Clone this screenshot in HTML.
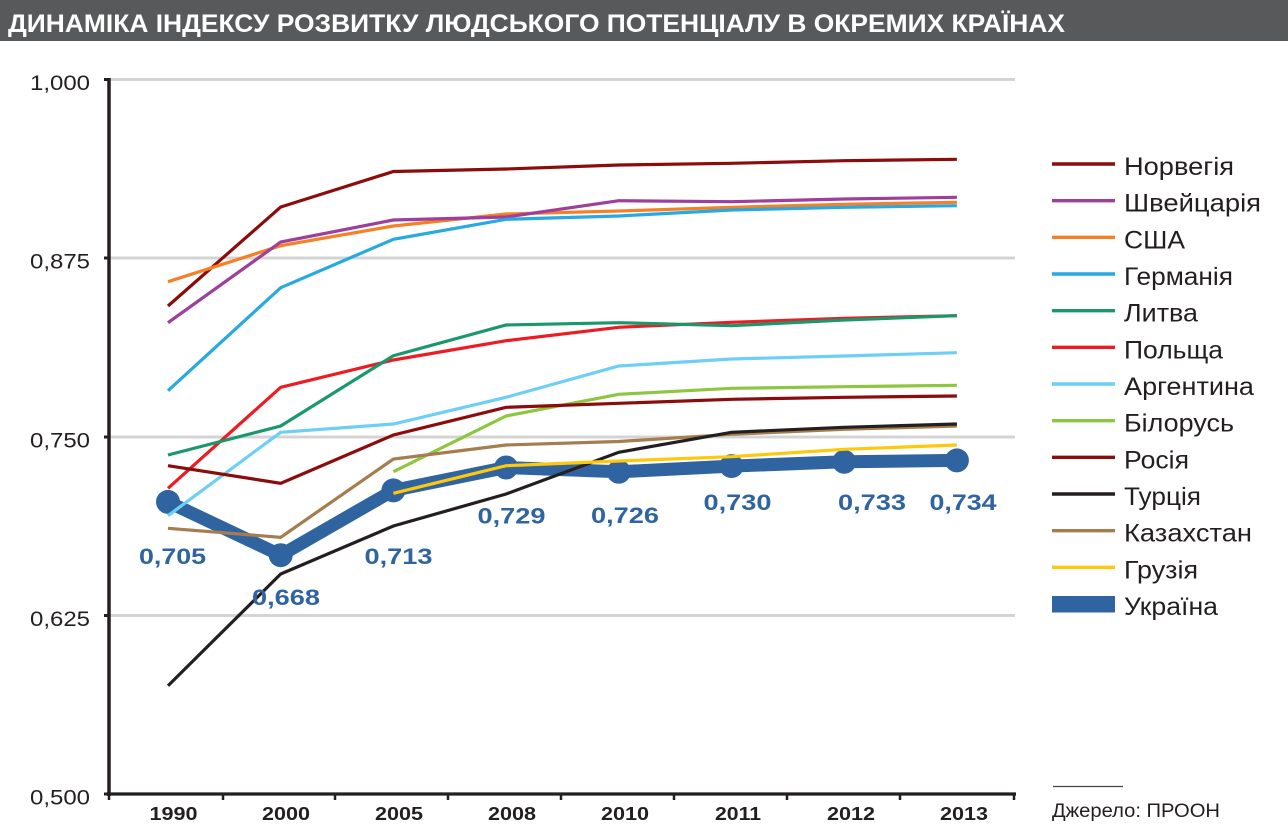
<!DOCTYPE html>
<html><head><meta charset="utf-8"><style>
html,body{margin:0;padding:0;background:#fff;}
svg{display:block;}
text{font-family:"Liberation Sans","DejaVu Sans",sans-serif;}
</style></head><body>
<svg width="1288" height="828" viewBox="0 0 1288 828" xmlns="http://www.w3.org/2000/svg">
<rect x="0" y="0" width="1288" height="828" fill="#fff"/>
<rect x="0" y="0" width="1288" height="41" fill="#58595b"/>
<text x="8" y="32" font-size="25" font-weight="bold" fill="#fff" textLength="1057" lengthAdjust="spacingAndGlyphs">ДИНАМІКА ІНДЕКСУ РОЗВИТКУ ЛЮДСЬКОГО ПОТЕНЦІАЛУ В ОКРЕМИХ КРАЇНАХ</text>

<!-- gridlines -->
<g stroke="#d4d4d4" stroke-width="3">
<line x1="110" y1="79.5" x2="1015" y2="79.5"/>
<line x1="110" y1="258" x2="1015" y2="258"/>
<line x1="110" y1="437" x2="1015" y2="437"/>
<line x1="110" y1="615.5" x2="1015" y2="615.5"/>
</g>

<!-- y labels -->
<g font-size="21" fill="#231f20" text-anchor="end">
<text x="90" y="90" textLength="60" lengthAdjust="spacingAndGlyphs">1,000</text>
<text x="90" y="268.5" textLength="60" lengthAdjust="spacingAndGlyphs">0,875</text>
<text x="90" y="447.5" textLength="60" lengthAdjust="spacingAndGlyphs">0,750</text>
<text x="90" y="626" textLength="60" lengthAdjust="spacingAndGlyphs">0,625</text>
<text x="90" y="804.5" textLength="60" lengthAdjust="spacingAndGlyphs">0,500</text>
</g>

<!-- Ukraine -->
<g>
<polyline fill="none" stroke="#2f64a0" stroke-width="13" stroke-linejoin="round" points="168,501.9 280.7,555.2 393.4,490.4 506.1,467.5 618.8,471.8 731.5,466.1 844.2,461.8 956.9,460.4"/>
<g fill="#2f64a0">
<circle cx="168" cy="501.9" r="12"/>
<circle cx="280.7" cy="555.2" r="12"/>
<circle cx="393.4" cy="490.4" r="12"/>
<circle cx="506.1" cy="467.5" r="12"/>
<circle cx="618.8" cy="471.8" r="12"/>
<circle cx="731.5" cy="466.1" r="12"/>
<circle cx="844.2" cy="461.8" r="12"/>
<circle cx="956.9" cy="460.4" r="12"/>
</g>
</g>

<!-- series -->
<g fill="none" stroke-width="3.2" stroke-linejoin="miter">
<polyline stroke="#8c0c0c" points="168,306 280.7,207 393.4,171.5 506.1,169 618.8,165 731.5,163.3 844.2,160.7 956.9,159.3"/>
<polyline stroke="#f58025" points="168,281.7 280.7,245.7 393.4,226 506.1,214 618.8,211 731.5,207.3 844.2,204.3 956.9,202.3"/>
<polyline stroke="#9e3f9c" points="168,322.7 280.7,242 393.4,220 506.1,217 618.8,200.7 731.5,201.7 844.2,199 956.9,197.3"/>
<polyline stroke="#27a9e1" points="168,390.7 280.7,287.7 393.4,239.3 506.1,219.3 618.8,216 731.5,210 844.2,207.3 956.9,205.7"/>
<polyline stroke="#ed1c24" points="168,488.3 280.7,387.3 393.4,360 506.1,340.7 618.8,327.3 731.5,322.3 844.2,318.3 956.9,315.7"/>
<polyline stroke="#18986b" points="168,455 280.7,426 393.4,355.7 506.1,325 618.8,322.7 731.5,325.7 844.2,320 956.9,315.7"/>
<polyline stroke="#6dcff6" points="168,515.7 280.7,432.3 393.4,424 506.1,397.3 618.8,366 731.5,359 844.2,356 956.9,352.7"/>
<polyline stroke="#8dc63f" points="393.4,471.7 506.1,416 618.8,394.3 731.5,388.3 844.2,386.7 956.9,385.3"/>
<polyline stroke="#8c0c0c" points="168,465.7 280.7,483.3 393.4,435 506.1,407.3 618.8,403.3 731.5,399.3 844.2,397.3 956.9,396"/>
<polyline stroke="#a57d4f" points="168,528.3 280.7,537.3 393.4,459 506.1,445 618.8,441.5 731.5,434.3 844.2,429.3 956.9,426"/>
<polyline stroke="#231f20" points="168,685.7 280.7,574 393.4,526 506.1,494 618.8,452.3 731.5,432.3 844.2,427.3 956.9,424"/>
<polyline stroke="#ffc80a" points="393.4,493.3 506.1,465.7 618.8,461 731.5,456.7 844.2,449.3 956.9,445"/>
</g>

<!-- Ukraine labels -->
<g font-size="22" font-weight="bold" fill="#2f64a0">
<text x="139" y="564" textLength="67" lengthAdjust="spacingAndGlyphs">0,705</text>
<text x="252" y="605" textLength="68" lengthAdjust="spacingAndGlyphs">0,668</text>
<text x="364.5" y="564" textLength="68" lengthAdjust="spacingAndGlyphs">0,713</text>
<text x="477.5" y="523.5" textLength="68" lengthAdjust="spacingAndGlyphs">0,729</text>
<text x="591" y="523" textLength="68" lengthAdjust="spacingAndGlyphs">0,726</text>
<text x="703.5" y="510" textLength="68" lengthAdjust="spacingAndGlyphs">0,730</text>
<text x="838" y="510" textLength="68" lengthAdjust="spacingAndGlyphs">0,733</text>
<text x="929.5" y="510" textLength="67" lengthAdjust="spacingAndGlyphs">0,734</text>
</g>

<!-- axes -->
<g stroke="#231f20">
<line x1="109" y1="78" x2="109" y2="796" stroke-width="3.5"/>
<line x1="107" y1="794" x2="1016" y2="794" stroke-width="3.3"/>
<g stroke-width="3">
<line x1="104" y1="79.5" x2="110" y2="79.5"/>
<line x1="104" y1="258" x2="110" y2="258"/>
<line x1="104" y1="437" x2="110" y2="437"/>
<line x1="104" y1="615.5" x2="110" y2="615.5"/>
<line x1="104" y1="794" x2="110" y2="794"/>
</g>
<g stroke-width="2.5">
<line x1="109" y1="794" x2="109" y2="800"/>
<line x1="223" y1="794" x2="223" y2="800"/>
<line x1="335" y1="794" x2="335" y2="800"/>
<line x1="448" y1="794" x2="448" y2="800"/>
<line x1="561" y1="794" x2="561" y2="800"/>
<line x1="674" y1="794" x2="674" y2="800"/>
<line x1="787" y1="794" x2="787" y2="800"/>
<line x1="900" y1="794" x2="900" y2="800"/>
<line x1="1014" y1="794" x2="1014" y2="800"/>
</g>
</g>

<!-- x labels -->
<g font-size="18.5" font-weight="bold" fill="#231f20" text-anchor="middle">
<text x="173.5" y="820" textLength="48" lengthAdjust="spacingAndGlyphs">1990</text>
<text x="286" y="820" textLength="48" lengthAdjust="spacingAndGlyphs">2000</text>
<text x="399" y="820" textLength="48" lengthAdjust="spacingAndGlyphs">2005</text>
<text x="512" y="820" textLength="48" lengthAdjust="spacingAndGlyphs">2008</text>
<text x="625" y="820" textLength="48" lengthAdjust="spacingAndGlyphs">2010</text>
<text x="738" y="820" textLength="46" lengthAdjust="spacingAndGlyphs">2011</text>
<text x="851" y="820" textLength="48" lengthAdjust="spacingAndGlyphs">2012</text>
<text x="964" y="820" textLength="48" lengthAdjust="spacingAndGlyphs">2013</text>
</g>

<!-- legend -->
<g stroke-width="3.4">
<line x1="1052" y1="164" x2="1115" y2="164" stroke="#8c0c0c"/>
<line x1="1052" y1="200.7" x2="1115" y2="200.7" stroke="#9e3f9c"/>
<line x1="1052" y1="237.3" x2="1115" y2="237.3" stroke="#f58025"/>
<line x1="1052" y1="274" x2="1115" y2="274" stroke="#27a9e1"/>
<line x1="1052" y1="310.7" x2="1115" y2="310.7" stroke="#18986b"/>
<line x1="1052" y1="347.3" x2="1115" y2="347.3" stroke="#ed1c24"/>
<line x1="1052" y1="384" x2="1115" y2="384" stroke="#6dcff6"/>
<line x1="1052" y1="420.7" x2="1115" y2="420.7" stroke="#8dc63f"/>
<line x1="1052" y1="457.3" x2="1115" y2="457.3" stroke="#8c0c0c"/>
<line x1="1052" y1="494" x2="1115" y2="494" stroke="#231f20"/>
<line x1="1052" y1="530.7" x2="1115" y2="530.7" stroke="#a57d4f"/>
<line x1="1052" y1="567.3" x2="1115" y2="567.3" stroke="#ffc80a"/>
</g>
<rect x="1052" y="596" width="63" height="16.5" fill="#2f64a0"/>
<g font-size="25" fill="#231f20">
<text x="1124" y="175" textLength="110" lengthAdjust="spacingAndGlyphs">Норвегія</text>
<text x="1124" y="211.7" textLength="137" lengthAdjust="spacingAndGlyphs">Швейцарія</text>
<text x="1124" y="248.3" textLength="61" lengthAdjust="spacingAndGlyphs">США</text>
<text x="1124" y="285" textLength="109" lengthAdjust="spacingAndGlyphs">Германія</text>
<text x="1124" y="321.7" textLength="74" lengthAdjust="spacingAndGlyphs">Литва</text>
<text x="1124" y="358.3" textLength="99" lengthAdjust="spacingAndGlyphs">Польща</text>
<text x="1124" y="395" textLength="130" lengthAdjust="spacingAndGlyphs">Аргентина</text>
<text x="1124" y="431.7" textLength="110" lengthAdjust="spacingAndGlyphs">Білорусь</text>
<text x="1124" y="468.3" textLength="65" lengthAdjust="spacingAndGlyphs">Росія</text>
<text x="1124" y="505" textLength="77" lengthAdjust="spacingAndGlyphs">Турція</text>
<text x="1124" y="541.7" textLength="128" lengthAdjust="spacingAndGlyphs">Казахстан</text>
<text x="1124" y="578.3" textLength="74" lengthAdjust="spacingAndGlyphs">Грузія</text>
<text x="1124" y="615" textLength="94" lengthAdjust="spacingAndGlyphs">Україна</text>
</g>

<!-- source -->
<line x1="1053" y1="786.5" x2="1123" y2="786.5" stroke="#444" stroke-width="1.2"/>
<text x="1052" y="817" font-size="19" fill="#231f20" textLength="168" lengthAdjust="spacingAndGlyphs">Джерело: ПРООН</text>
</svg>
</body></html>
